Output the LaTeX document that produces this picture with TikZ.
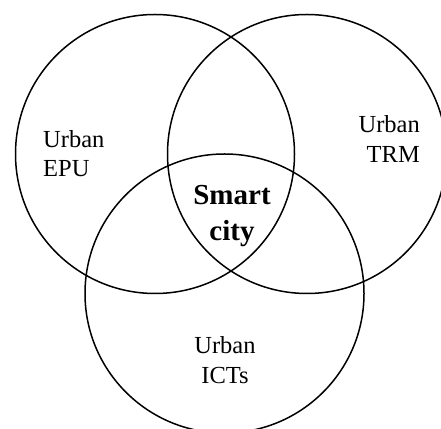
\documentclass[tikz,border=0pt]{standalone}
\usepackage{fontspec}
\setmainfont{Liberation Serif}
\begin{document}
\begin{tikzpicture}[x=1pt,y=1pt,
    label text/.style={inner sep=0pt, font=\fontsize{24.5}{29.5}\selectfont},
    core text/.style={inner sep=0pt, align=center, font=\fontsize{29}{36}\selectfont\bfseries}]
    \useasboundingbox (0,0) rectangle (441,428);

    % Draw the three circles
    \draw[line width=1.5pt] (155,274) circle (139.5pt);
    \draw[line width=1.5pt] (307,274) circle (139.5pt);
    \draw[line width=1.5pt] (224.5,134.5) circle (139.5pt);

    % Label the outer regions
    \node[label text, align=left, anchor=west] (epu) at (43,274.5) {Urban\\EPU};
    \node[label text, align=right, anchor=east] (trm) at (420,289) {Urban\\TRM};
    \node[label text, align=center] (icts) at (225,68) {Urban\\ICTs};

    % Label the common region
    \node[core text] (smart) at (232,211.5) {Smart\\city};

\end{tikzpicture}
\end{document}
